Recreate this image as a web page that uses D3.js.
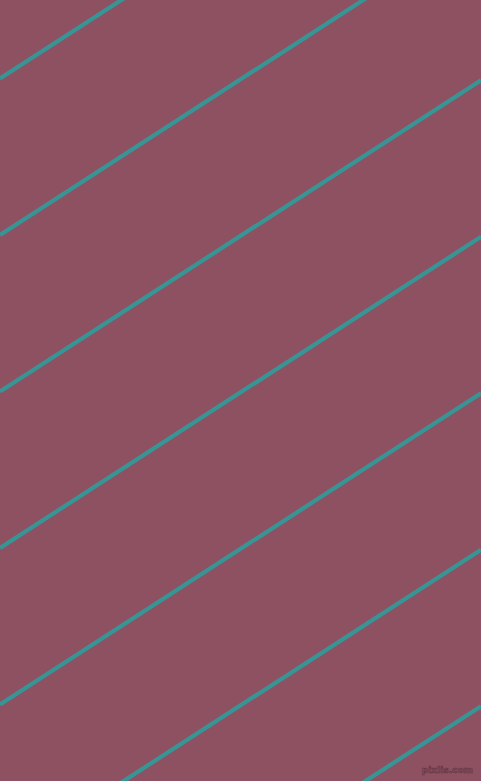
<!DOCTYPE html>
<html>
<head>
<meta charset="utf-8">
<script src="https://cdn.jsdelivr.net/npm/d3@7"></script>
<style>
  html, body { margin: 0; padding: 0; background: #8D5161; }
  svg { display: block; }
</style>
</head>
<body>
<script>
// Data: y-intercepts (at x = 0) of the parallel stripes, and their common slope
const stripeIntercepts = [78.5, 235, 391.5, 548, 704.5, 861, 1017.5];
const stripeSlope = -0.647;
const xExtent = [0, 481];
const watermark = ["pixlis.com"];

const W = 481, H = 781;
const svg = d3.select("body").append("svg")
  .attr("width", W).attr("height", H)
  .attr("viewBox", `0 0 ${W} ${H}`);

const x = d3.scaleLinear().domain([0, 481]).range([0, W]);
const y = d3.scaleLinear().domain([0, 781]).range([0, H]);

svg.append("rect").attr("width", W).attr("height", H).attr("fill", "#8D5161");

const line = d3.line().x(d => x(d[0])).y(d => y(d[1]));

svg.append("g")
  .selectAll("path")
  .data(stripeIntercepts)
  .join("path")
  .attr("d", b => line(xExtent.map(xv => [xv, b + stripeSlope * xv])))
  .attr("fill", "none")
  .attr("stroke", "#389596")
  .attr("stroke-width", 4.2);

svg.append("g")
  .selectAll("text")
  .data(watermark)
  .join("text")
  .attr("x", 473)
  .attr("y", 773)
  .attr("text-anchor", "end")
  .attr("font-family", "DejaVu Sans, sans-serif")
  .attr("font-size", 9)
  .attr("font-weight", "bold")
  .attr("fill", "#8D5161")
  .attr("stroke", "#5e3340")
  .attr("stroke-width", 0.6)
  .text(d => d);
</script>
</body>
</html>
